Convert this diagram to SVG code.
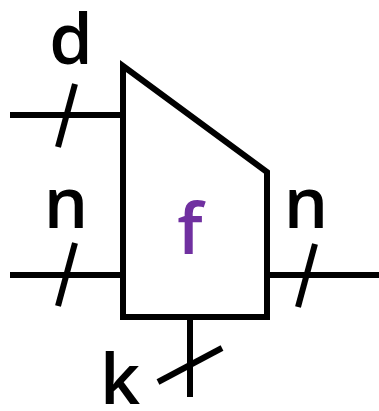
<svg xmlns="http://www.w3.org/2000/svg" width="379" height="411" viewBox="0 0 379 411">
<style>
.ln{stroke:#000;stroke-width:6;fill:none;stroke-linecap:butt}
.lbl{font-family:"Open Sans","DejaVu Sans",sans-serif;font-size:70px;font-weight:600;fill:#000;text-anchor:middle}
</style>
<rect width="379" height="411" fill="#fff"/>
<g id="connectors">
<line class="ln" x1="10" y1="115" x2="123" y2="115"/>
<line class="ln" x1="75" y1="84" x2="58" y2="147"/>
<line class="ln" x1="10" y1="275" x2="123" y2="275"/>
<line class="ln" x1="75" y1="243" x2="58" y2="306"/>
<line class="ln" x1="267" y1="275" x2="379" y2="275"/>
<line class="ln" x1="315" y1="244" x2="298" y2="307"/>
<line class="ln" x1="190" y1="317" x2="190" y2="397"/>
<line class="ln" x1="222" y1="348" x2="158" y2="382"/>
</g>
<g id="f">
<polygon class="ln" points="123,66 267,172 267,317 123,317" stroke-linejoin="miter"/>
<text class="lbl" x="190" y="254" style="fill:#7030A0">f</text>
</g>
<g id="labels">
<text class="lbl" x="71" y="64">d</text>
<text class="lbl" x="66" y="228">n</text>
<text class="lbl" x="306" y="228">n</text>
<text class="lbl" x="120" y="404">k</text>
</g>
</svg>
